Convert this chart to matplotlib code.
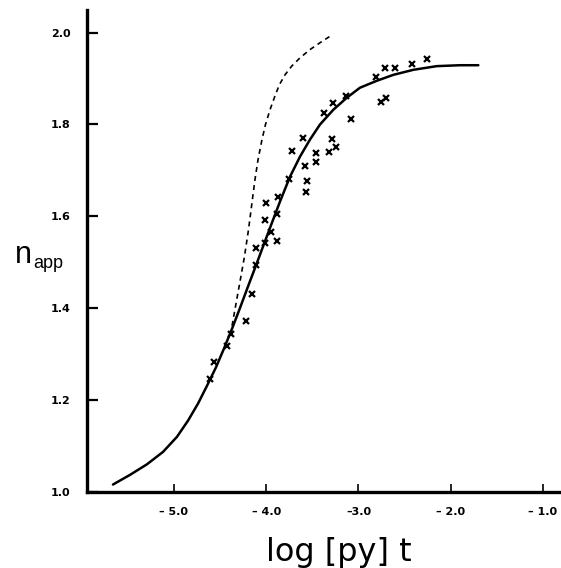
import matplotlib
matplotlib.use("Agg")
import matplotlib.pyplot as plt

# measured points (x marks)
pts_x = [-2.26, -2.42, -2.60, -2.71, -2.81, -2.70, -2.76, -3.13, -3.28, -3.37,
         -3.08, -3.60, -3.72, -3.29, -3.24, -3.32, -3.46, -3.46, -3.58, -3.56,
         -3.57, -3.75, -3.87, -4.00, -3.88, -4.01, -3.95, -3.88, -4.01, -4.11,
         -4.11, -4.15, -4.22, -4.38, -4.42, -4.57, -4.61]
pts_y = [1.943, 1.932, 1.922, 1.922, 1.903, 1.858, 1.848, 1.863, 1.847, 1.825,
         1.813, 1.770, 1.743, 1.768, 1.750, 1.740, 1.738, 1.719, 1.710, 1.676,
         1.654, 1.681, 1.643, 1.629, 1.605, 1.593, 1.565, 1.547, 1.542, 1.530,
         1.493, 1.431, 1.371, 1.343, 1.318, 1.283, 1.246]

# fitted curve (solid)
fit_x = [-5.661, -5.477, -5.293, -5.119, -4.967, -4.848, -4.740, -4.642, -4.545,
         -4.458, -4.371, -4.285, -4.198, -4.111, -4.024, -3.938, -3.851, -3.743,
         -3.634, -3.526, -3.417, -3.273, -3.128, -2.984, -2.803, -2.623, -2.406,
         -2.152, -1.900, -1.701]
fit_y = [1.016, 1.037, 1.060, 1.087, 1.120, 1.155, 1.192, 1.231, 1.271,
         1.312, 1.355, 1.400, 1.447, 1.493, 1.540, 1.586, 1.632, 1.686,
         1.730, 1.767, 1.800, 1.832, 1.858, 1.880, 1.895, 1.908, 1.919,
         1.927, 1.929, 1.929]

# second curve (dashed)
dash_x = [-4.388, -4.339, -4.287, -4.236, -4.192, -4.154, -4.122, -4.089, -4.046,
          -4.008, -3.959, -3.900, -3.856, -3.797, -3.724, -3.634, -3.526, -3.417,
          -3.309]
dash_y = [1.342, 1.397, 1.455, 1.512, 1.571, 1.630, 1.680, 1.723, 1.767,
          1.800, 1.832, 1.865, 1.887, 1.908, 1.927, 1.945, 1.963, 1.978,
          1.992]

xticks = [-5.0, -4.0, -3.0, -2.0, -1.0]
xticklabels = ["\u2013 5.0", "\u2013 4.0", "\u20133.0", "\u2013 2.0", "\u2013 1.0"]
yticks = [1.0, 1.2, 1.4, 1.6, 1.8, 2.0]
yticklabels = ["1.0", "1.2", "1.4", "1.6", "1.8", "2.0"]

fig = plt.figure(figsize=(5.61, 5.68), dpi=100)
ax = fig.add_axes([0.155, 0.134, 0.845, 0.849])

ax.plot(fit_x, fit_y, color="black", lw=1.8, solid_capstyle="round",
        solid_joinstyle="round")
ax.plot(dash_x, dash_y, color="black", lw=1.2, linestyle=(0, (3, 2.5)))
ax.plot(pts_x, pts_y, linestyle="none", marker="x", color="black",
        markersize=4.5, markeredgewidth=1.6)

ax.set_xlim(-5.943, -0.805)
ax.set_ylim(1.0, 2.050)

for side in ["top", "right"]:
    ax.spines[side].set_visible(False)
ax.spines["left"].set_linewidth(2.4)
ax.spines["bottom"].set_linewidth(2.4)

ax.set_xticks(xticks)
ax.set_xticklabels(xticklabels, fontsize=8, fontweight="bold")
ax.set_yticks(yticks)
ax.set_yticklabels(yticklabels, fontsize=8, fontweight="bold")
ax.tick_params(axis="y", direction="in", length=8, width=1.6, pad=12)
ax.tick_params(axis="x", direction="in", length=6, width=1.2, pad=11)

fig.text(15 / 561, 1 - 263 / 568, "n", fontsize=22,
         family="Liberation Sans", va="baseline", ha="left")
fig.text(33 / 561, 1 - 268 / 568, "app", fontsize=13,
         family="Liberation Sans", va="baseline", ha="left")
fig.text(339 / 561, 1 - 552 / 568, "log [py] t", fontsize=23,
         family="DejaVu Sans", va="center", ha="center")

fig.savefig("out.png", dpi=100)
